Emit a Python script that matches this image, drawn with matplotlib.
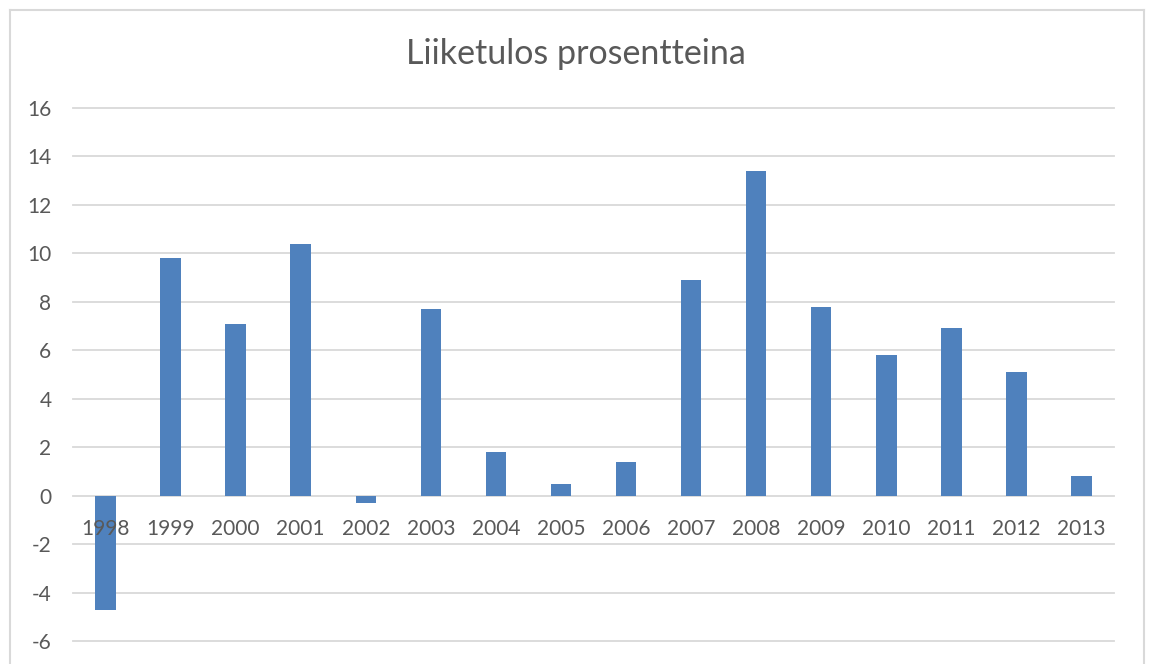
import matplotlib
matplotlib.use("Agg")
import matplotlib.pyplot as plt
from matplotlib.lines import Line2D

years = ["1998", "1999", "2000", "2001", "2002", "2003", "2004", "2005",
         "2006", "2007", "2008", "2009", "2010", "2011", "2012", "2013"]
values = [-4.7, 9.8, 7.1, 10.4, -0.3, 7.7, 1.8, 0.5,
          1.4, 8.9, 13.4, 7.8, 5.8, 6.9, 5.1, 0.8]
yticks = [-6, -4, -2, 0, 2, 4, 6, 8, 10, 12, 14, 16]
title = "Liiketulos prosentteina"

plt.rcParams['font.family'] = ['Lato', 'DejaVu Sans']
W, H = 1150, 664
fig = plt.figure(figsize=(W / 100, H / 100), dpi=100)
fig.patch.set_facecolor("white")

# chart border (Excel chart area)
border = "#D9D9D9"
fig.add_artist(Line2D([9.5 / W, 9.5 / W], [0, 1 - 9.5 / H], color=border, lw=1.5))
fig.add_artist(Line2D([9.5 / W, 1143.5 / W], [1 - 9.5 / H, 1 - 9.5 / H], color=border, lw=1.5))
fig.add_artist(Line2D([1143.5 / W, 1143.5 / W], [0, 1 - 9.5 / H], color=border, lw=1.5))

left, right = 73 / W, 1114 / W
bottom, top = (H - 641) / H, (H - 108) / H
ax = fig.add_axes([left, bottom, right - left, top - bottom])

x = list(range(len(years)))
for v in yticks:
    ax.axhline(v, color="#D9D9D9", lw=1.3, zorder=1, clip_on=False)
ax.bar(x, values, width=0.315, color="#4F81BD", zorder=2)
ax.set_xlim(-0.5, len(years) - 0.5)
ax.set_ylim(-6, 16)
ax.set_yticks(yticks)
ax.set_yticklabels([str(v) for v in yticks])
ax.set_axisbelow(False)

for s in ["top", "right", "left", "bottom"]:
    ax.spines[s].set_visible(False)
ax.spines["bottom"].set_position(("data", 0))

ax.set_xticks(x)
ax.set_xticklabels(years)
ax.tick_params(axis="x", length=0, pad=16.5, labelsize=15, labelcolor="#595959")
ax.tick_params(axis="y", length=0, pad=15.5, labelsize=15, labelcolor="#595959")
for lbl in ax.get_yticklabels():
    lbl.set_horizontalalignment("right")
for lbl in ax.get_xticklabels():
    lbl.set_zorder(5)

fig.text(576 / W, 1 - 54 / H, title, ha="center", va="center",
         fontsize=24.5, color="#595959")

fig.savefig("out.png", dpi=100, facecolor="white")
